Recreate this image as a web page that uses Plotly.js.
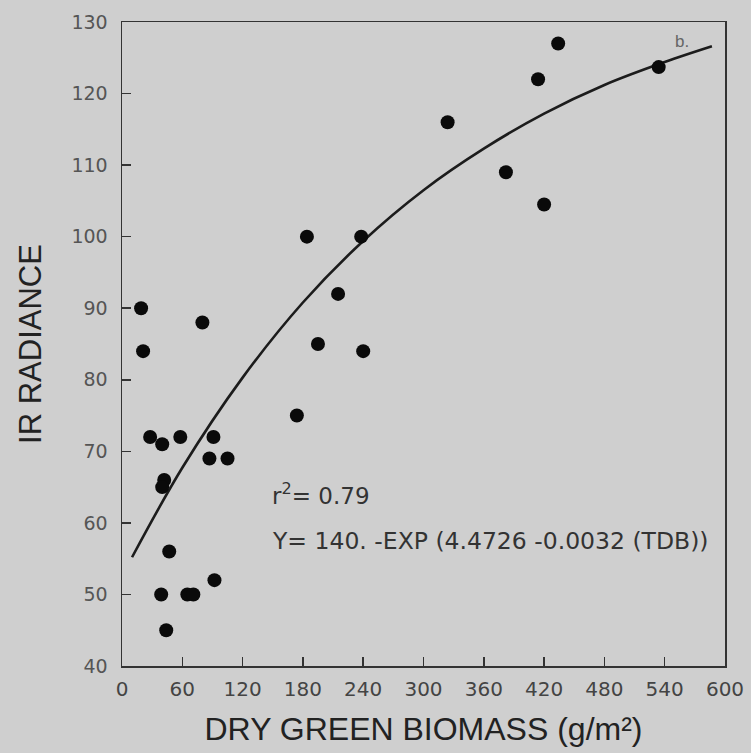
<!DOCTYPE html>
<html>
<head>
<meta charset="utf-8">
<script src="https://cdn.plot.ly/plotly-3.0.1.min.js"></script>
<style>
html,body{margin:0;padding:0;background:#cfcfcf;}
#chart{width:751px;height:753px;}
</style>
</head>
<body>
<div id="chart"></div>
<script>
// Observed points: dry green biomass (g/m²) vs IR radiance
const biomass = [19, 21, 28, 40, 58, 42, 40, 47, 39, 44, 65, 71, 92, 80, 91, 87, 105,
                 174, 195, 240, 184, 238, 215, 324, 382, 420, 414, 434, 534];
const radiance = [90, 84, 72, 71, 72, 66, 65, 56, 50, 45, 50, 50, 52, 88, 72, 69, 69,
                  75, 85, 84, 100, 100, 92, 116, 109, 104.5, 122, 127, 123.7];

// Fitted curve
const fitX = [10, 60, 120, 180, 240, 300, 360, 420, 480, 540, 587];
const fitY = [55.2, 67.7, 80.3, 90.8, 99.4, 106.5, 112.3, 117.2, 121.2, 124.4, 126.6];

const xTicks = [0, 60, 120, 180, 240, 300, 360, 420, 480, 540, 600];
const yTicks = [40, 50, 60, 70, 80, 90, 100, 110, 120, 130];

const bg = '#cfcfcf';
const ink = '#1c1c1c';

const traces = [
  {x: fitX, y: fitY, mode: 'lines', type: 'scatter',
   line: {color: ink, width: 2.6, shape: 'spline'}, hoverinfo: 'skip'},
  {x: biomass, y: radiance, mode: 'markers', type: 'scatter',
   marker: {color: '#0a0a0a', size: 14}}
];

const layout = {
  width: 751, height: 753,
  paper_bgcolor: bg, plot_bgcolor: bg,
  showlegend: false,
  margin: {l: 122, r: 26, t: 22, b: 87},
  xaxis: {
    range: [0, 600], tickvals: xTicks, ticktext: xTicks.map(String),
    ticks: 'inside', ticklen: 9, tickwidth: 1.5, tickcolor: '#333',
    showline: true, linecolor: '#333', linewidth: 1.5, mirror: true,
    showgrid: false, zeroline: false,
    tickfont: {family: 'DejaVu Sans, sans-serif', size: 20, color: '#444'},
    ticklabelstandoff: 4,
    title: {text: 'DRY GREEN BIOMASS (g/m²)', standoff: 18,
            font: {family: 'Liberation Sans, Arial, sans-serif', size: 32, color: '#222'}}
  },
  yaxis: {
    range: [40, 130], tickvals: yTicks, ticktext: yTicks.map(String),
    ticks: 'inside', ticklen: 9, tickwidth: 1.5, tickcolor: '#333',
    showline: true, linecolor: '#333', linewidth: 1.5, mirror: true,
    showgrid: false, zeroline: false,
    tickfont: {family: 'DejaVu Sans, sans-serif', size: 19, color: '#555'},
    ticklabelstandoff: 9,
    title: {text: 'IR RADIANCE', standoff: 20,
            font: {family: 'Liberation Sans, Arial, sans-serif', size: 31, color: '#222'}}
  },
  annotations: [
    {x: 147.6, y: 64.0, xref: 'x', yref: 'y', xanchor: 'left', yanchor: 'middle',
     text: 'r<sup>2</sup>= 0.79', showarrow: false,
     font: {family: 'DejaVu Sans, sans-serif', size: 23, color: '#333'}},
    {x: 147.6, y: 57.5, xref: 'x', yref: 'y', xanchor: 'left', yanchor: 'middle',
     text: 'Y= 140. -EXP (4.4726 -0.0032 (TDB))', showarrow: false,
     font: {family: 'DejaVu Sans, sans-serif', size: 23.5, color: '#333'}},
    {x: 548, y: 127.3, xref: 'x', yref: 'y', xanchor: 'left', yanchor: 'middle',
     text: 'b.', showarrow: false,
     font: {family: 'Liberation Sans, Arial, sans-serif', size: 17, color: '#666'}}
  ]
};

Plotly.newPlot('chart', traces, layout, {displayModeBar: false, staticPlot: true});
</script>
</body>
</html>
